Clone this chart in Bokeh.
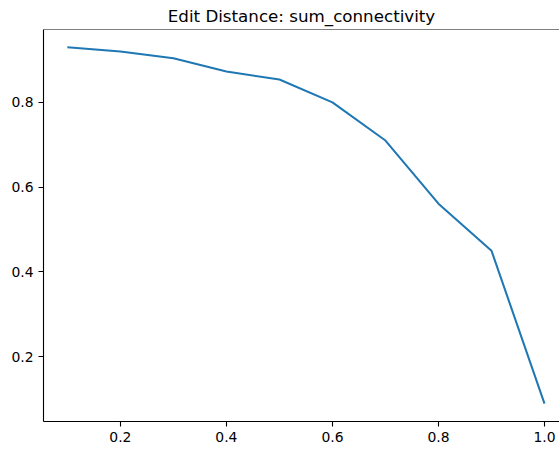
from bokeh.plotting import figure
from bokeh.models import Range1d, FixedTicker, Span
from bokeh.embed import file_html
from bokeh.resources import INLINE

# data
x_vals = [0.1, 0.2, 0.3, 0.4, 0.5, 0.6, 0.7, 0.8, 0.9, 1.0]
y_vals = [0.930, 0.920, 0.904, 0.873, 0.854, 0.800, 0.710, 0.561, 0.450, 0.089]
x_ticks = [0.2, 0.4, 0.6, 0.8, 1.0]
y_ticks = [0.2, 0.4, 0.6, 0.8]
title_text = "Edit Distance: sum_connectivity"

ymin, ymax = min(y_vals), max(y_vals)
ypad = 0.05 * (ymax - ymin)
xmin, xmax = min(x_vals), max(x_vals)
xpad = 0.05 * (xmax - xmin)

p = figure(width=559, height=449, output_backend="svg", toolbar_location=None,
           x_range=Range1d(xmin - xpad, 1.0283),
           y_range=Range1d(ymin - ypad, ymax + ypad),
           min_border_left=43, min_border_right=0, min_border_top=0, min_border_bottom=28)

p.line(x_vals, y_vals, line_color="#1f77b4", line_width=2.05)

p.title.text = title_text
p.title.align = "center"
p.title.offset = 4
p.title.standoff = 7
p.title.text_font = "DejaVu Sans"
p.title.text_font_size = "16.7px"
p.title.text_font_style = "normal"
p.title.text_color = "black"

p.xgrid.visible = False
p.ygrid.visible = False
p.outline_line_color = None
p.background_fill_color = "white"
p.border_fill_color = "white"

for ax, ticks in ((p.xaxis[0], x_ticks), (p.yaxis[0], y_ticks)):
    ax.ticker = FixedTicker(ticks=ticks)
    ax.major_label_overrides = {t: f"{t:.1f}" for t in ticks}
    ax.minor_tick_line_color = None
    ax.major_tick_in = 0
    ax.major_tick_out = 5
    ax.major_tick_line_color = "black"
    ax.major_tick_line_width = 1.1
    ax.axis_line_color = "black"
    ax.axis_line_width = 1.1
    ax.major_label_text_font = "DejaVu Sans"
    ax.major_label_text_font_size = "13.9px"
    ax.major_label_text_color = "black"
    ax.major_label_standoff = 5

top_spine = Span(location=ymax + ypad, dimension="width", line_color="black", line_width=1.1)
p.add_layout(top_spine)

open("out.html", "w").write(file_html(p, INLINE))
